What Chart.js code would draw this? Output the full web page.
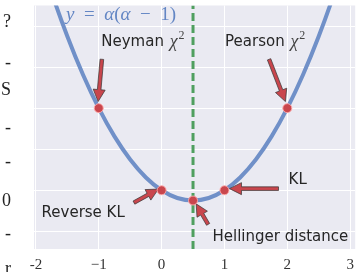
<!DOCTYPE html>
<html>
<head>
<meta charset="utf-8">
<script src="https://cdn.jsdelivr.net/npm/chart.js@4.4.1/dist/chart.umd.min.js"></script>
<style>
  html, body { margin: 0; padding: 0; background: #fff; }
  #wrap { position: relative; width: 356px; height: 272px; overflow: hidden; }
  #left-cut { position: absolute; left: -7px; top: 0; width: 18px; height: 272px;
    font-family: "Liberation Serif", serif; font-size: 18px; color: #222; }
  #left-cut span { position: absolute; right: 0; transform: translateY(-50%); }
</style>
</head>
<body>
<div id="wrap">
  <canvas id="chart" width="361" height="272"></canvas>
  <div id="left-cut"></div>
</div>
<script>
// curve y = a(a-1)
const alphaGrid = [-2, -1.75, -1.5, -1.25, -1, -0.75, -0.5, -0.25, 0, 0.25, 0.5, 0.75, 1, 1.25, 1.5, 1.75, 2, 2.25, 2.5, 2.75, 3];
const curveVals = [6, 4.8125, 3.75, 2.8125, 2, 1.3125, 0.75, 0.3125, 0, -0.1875, -0.25, -0.1875, 0, 0.3125, 0.75, 1.3125, 2, 2.8125, 3.75, 4.8125, 6];

// marked divergences
const markAlpha = [-1, 0, 0.5, 1, 2];
const markVals = [2, 0, -0.25, 0, 2];
const optimumAlpha = 0.5;

const xTicks = [-2, -1, 0, 1, 2, 3];
const yTicks = [-1, 0, 1, 2, 3, 4];
const xRange = [-2.03, 3.08];
const yRange = [-1.43, 4.5];

// clipped glyphs from the neighbouring panel on the left
const leftGlyphs = ['?', '-', 'S', '-', '-', '0', '-', 'r'];
const leftGlyphY = [21, 62, 89, 127, 161, 200, 233, 268];

const cut = document.getElementById('left-cut');
leftGlyphs.forEach((g, i) => {
  const s = document.createElement('span');
  s.textContent = g;
  s.style.top = leftGlyphY[i] + 'px';
  cut.appendChild(s);
});

// annotation anchors (data coords)
const notes = [
  { text: 'Neyman', chi: true, at: [-0.96, 3.62], tail: [-0.95, 3.19], head: [-1.01, 2.16] },
  { text: 'Pearson', chi: true, at: [1.01, 3.62], tail: [1.71, 3.19], head: [1.97, 2.16] },
  { text: 'Reverse KL', chi: false, at: [-1.91, -0.55], tail: [-0.44, -0.3], head: [-0.05, 0.03] },
  { text: 'KL', chi: false, at: [2.02, 0.25], tail: [1.86, 0.04], head: [1.08, 0.04] },
  { text: 'Hellinger distance', chi: false, at: [0.81, -1.14], tail: [0.74, -0.83], head: [0.55, -0.33] }
];

const RED = '#c9464d';

function drawArrow(ctx, x1, y1, x2, y2) {
  const dx = x2 - x1, dy = y2 - y1;
  const len = Math.hypot(dx, dy);
  const ux = dx / len, uy = dy / len;
  const nx = -uy, ny = ux;
  const w = 1.8, hw = 6, hl = Math.min(12, len * 0.6);
  const bx = x2 - ux * hl, by = y2 - uy * hl;
  ctx.beginPath();
  ctx.moveTo(x1 + nx * w, y1 + ny * w);
  ctx.lineTo(bx + nx * w, by + ny * w);
  ctx.lineTo(bx + nx * hw, by + ny * hw);
  ctx.lineTo(x2, y2);
  ctx.lineTo(bx - nx * hw, by - ny * hw);
  ctx.lineTo(bx - nx * w, by - ny * w);
  ctx.lineTo(x1 - nx * w, y1 - ny * w);
  ctx.closePath();
  ctx.fillStyle = RED;
  ctx.fill();
  ctx.lineWidth = 0.7;
  ctx.strokeStyle = '#333';
  ctx.stroke();
}

const plotBg = {
  id: 'plotBg',
  beforeDraw(chart) {
    const { ctx, chartArea: a } = chart;
    ctx.save();
    ctx.fillStyle = '#eaeaf2';
    ctx.fillRect(a.left, a.top, a.right - a.left, a.bottom - a.top);
    ctx.restore();
  }
};

const arrows = {
  id: 'arrows',
  afterDatasetDraw(chart, args) {
    if (args.index !== 1) return;
    const { ctx, scales: { x, y } } = chart;
    ctx.save();
    notes.forEach(n => {
      drawArrow(ctx, x.getPixelForValue(n.tail[0]), y.getPixelForValue(n.tail[1]),
        x.getPixelForValue(n.head[0]), y.getPixelForValue(n.head[1]));
    });
    ctx.restore();
  }
};

const labels = {
  id: 'labels',
  afterDraw(chart) {
    const { ctx, scales: { x, y } } = chart;
    ctx.save();
    ctx.textBaseline = 'middle';
    notes.forEach(n => {
      let px = x.getPixelForValue(n.at[0]);
      const py = y.getPixelForValue(n.at[1]);
      ctx.fillStyle = '#262626';
      ctx.font = '15px "DejaVu Sans"';
      ctx.fillText(n.text, px, py);
      if (n.chi) {
        px += ctx.measureText(n.text + ' ').width + 1;
        ctx.fillStyle = '#444';
        ctx.font = 'italic 18px "Liberation Serif"';
        ctx.fillText('\u03c7', px, py + 1);
        px += ctx.measureText('\u03c7').width + 1;
        ctx.font = '12px "Liberation Serif"';
        ctx.fillText('2', px, py - 6);
      }
    });
    // title formula
    let tx = x.getPixelForValue(-1.52);
    const ty = y.getPixelForValue(4.27);
    const parts = [['y', true], ['\u2002=\u2002', false], ['\u03b1', true], ['(', false], ['\u03b1', true], ['\u2002\u2212\u2002', false], ['1)', false]];
    ctx.fillStyle = '#6386c4';
    parts.forEach(([t, it]) => {
      ctx.font = (it ? 'italic ' : '') + '19px "Liberation Serif"';
      ctx.fillText(t, tx, ty);
      tx += ctx.measureText(t).width;
    });
    ctx.restore();
  }
};

new Chart(document.getElementById('chart'), {
  type: 'scatter',
  data: {
    datasets: [
      {
        data: markAlpha.map((a, i) => ({ x: a, y: markVals[i] })),
        pointRadius: 4.5,
        pointBackgroundColor: RED,
        pointBorderColor: 'rgba(255,170,170,0.9)',
        pointBorderWidth: 1,
        showLine: false
      },
      {
        data: [{ x: optimumAlpha, y: yRange[0] }, { x: optimumAlpha, y: yRange[1] }],
        showLine: true,
        borderColor: '#4f9f5f',
        borderWidth: 3,
        borderDash: [8, 4],
        pointRadius: 0
      },
      {
        data: alphaGrid.map((a, i) => ({ x: a, y: curveVals[i] })),
        showLine: true,
        borderColor: '#7090c8',
        borderWidth: 4,
        cubicInterpolationMode: 'monotone',
        pointRadius: 0
      }
    ]
  },
  options: {
    responsive: false,
    animation: false,
    events: [],
    layout: { padding: { left: 34, top: 2, right: 0, bottom: 0 } },
    plugins: { legend: { display: false }, tooltip: { enabled: false } },
    scales: {
      x: {
        type: 'linear',
        min: xRange[0],
        max: xRange[1],
        afterBuildTicks: s => { s.ticks = xTicks.map(v => ({ value: v })); },
        afterFit: s => { s.height = 23; },
        border: { display: false },
        grid: { color: '#ffffff', lineWidth: 1, drawTicks: false },
        ticks: {
          padding: 7,
          color: '#333',
          font: { family: '"Liberation Serif"', size: 15 },
          callback: v => String(v).replace('-', v === -2 ? '-' : '\u2212')
        }
      },
      y: {
        type: 'linear',
        min: yRange[0],
        max: yRange[1],
        afterBuildTicks: s => { s.ticks = yTicks.map(v => ({ value: v })); },
        afterFit: s => { s.width = 0; },
        border: { display: false },
        grid: { color: '#ffffff', lineWidth: 1, drawTicks: false },
        ticks: { display: false }
      }
    }
  },
  plugins: [plotBg, arrows, labels]
});
</script>
</body>
</html>
